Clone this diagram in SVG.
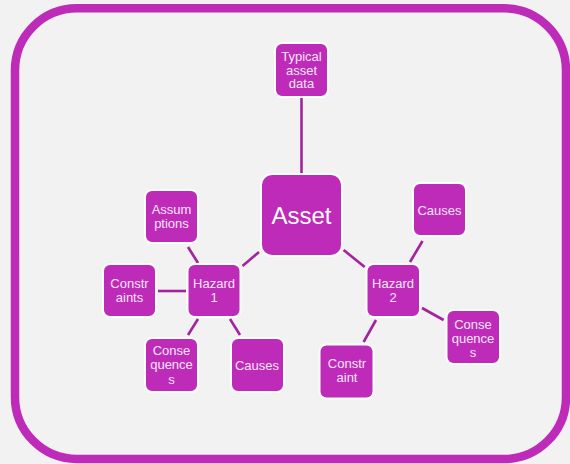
<svg xmlns="http://www.w3.org/2000/svg" width="570" height="464" viewBox="0 0 570 464">
<style>
.bg{fill:#f2f2f2}
.frame{fill:none;stroke:#be2bb9;stroke-width:8.5}
.box{fill:#be2bb9;stroke:#ffffff;stroke-width:2}
.conn line{stroke:#a3239c;stroke-width:2.6;stroke-linecap:butt}
text{font-family:"Liberation Sans",Arial,sans-serif;fill:#f8e6f6;text-anchor:middle;font-size:13px}
.big{font-size:24px;fill:#ffffff}
</style>
<rect class="bg" x="0" y="0" width="570" height="464"/>
<rect class="frame" x="15" y="8.3" width="551" height="450.7" rx="62" ry="62"/>
<g id="connectors" class="conn">
<line x1="301.5" y1="98" x2="301.5" y2="173"/>
<line x1="259" y1="252" x2="242.5" y2="266"/>
<line x1="343.6" y1="250" x2="364.7" y2="267"/>
<line x1="188" y1="247" x2="198" y2="263"/>
<line x1="158" y1="291" x2="186" y2="291"/>
<line x1="198" y1="319" x2="188" y2="335"/>
<line x1="230" y1="319" x2="240" y2="335"/>
<line x1="422.5" y1="241" x2="410" y2="262"/>
<line x1="422" y1="308" x2="443.6" y2="320"/>
<line x1="376" y1="320" x2="363.6" y2="342"/>
</g>
<g id="typical">
<rect class="box" x="275" y="43" width="53" height="54" rx="7"/>
<text x="301.5" y="61">Typical</text>
<text x="301.5" y="74.5">asset</text>
<text x="301.5" y="88">data</text>
</g>
<g id="asset">
<rect class="box" x="261" y="174" width="81" height="82" rx="11"/>
<text class="big" x="301.5" y="223.5">Asset</text>
</g>
<g id="assumptions">
<rect class="box" x="145" y="190" width="53" height="53" rx="7"/>
<text x="171.5" y="213.5">Assum</text>
<text x="171.5" y="227.5">ptions</text>
</g>
<g id="causes2">
<rect class="box" x="413" y="183" width="53" height="53" rx="7"/>
<text x="439.5" y="214.5">Causes</text>
</g>
<g id="constraints">
<rect class="box" x="103" y="264" width="53" height="53" rx="7"/>
<text x="129.5" y="287.5">Constr</text>
<text x="129.5" y="302">aints</text>
</g>
<g id="hazard1">
<rect class="box" x="187.5" y="264" width="53" height="53" rx="7"/>
<text x="214" y="287.5">Hazard</text>
<text x="214" y="301.5">1</text>
</g>
<g id="consequences1">
<rect class="box" x="145" y="338" width="53" height="54" rx="7"/>
<text x="171.5" y="354.5">Conse</text>
<text x="171.5" y="369">quence</text>
<text x="171.5" y="383.5">s</text>
</g>
<g id="causes1">
<rect class="box" x="231" y="338" width="53" height="54" rx="7"/>
<text x="257" y="369.5">Causes</text>
</g>
<g id="hazard2">
<rect class="box" x="366.5" y="264" width="53.5" height="53" rx="7"/>
<text x="393" y="287.5">Hazard</text>
<text x="393" y="301.5">2</text>
</g>
<g id="consequences2">
<rect class="box" x="446.5" y="310" width="53.5" height="54" rx="7"/>
<text x="473" y="328.5">Conse</text>
<text x="473" y="342.5">quence</text>
<text x="473" y="356.5">s</text>
</g>
<g id="constraint">
<rect class="box" x="319.5" y="344.5" width="54" height="54" rx="7"/>
<text x="347" y="368">Constr</text>
<text x="347" y="382">aint</text>
</g>
</svg>
